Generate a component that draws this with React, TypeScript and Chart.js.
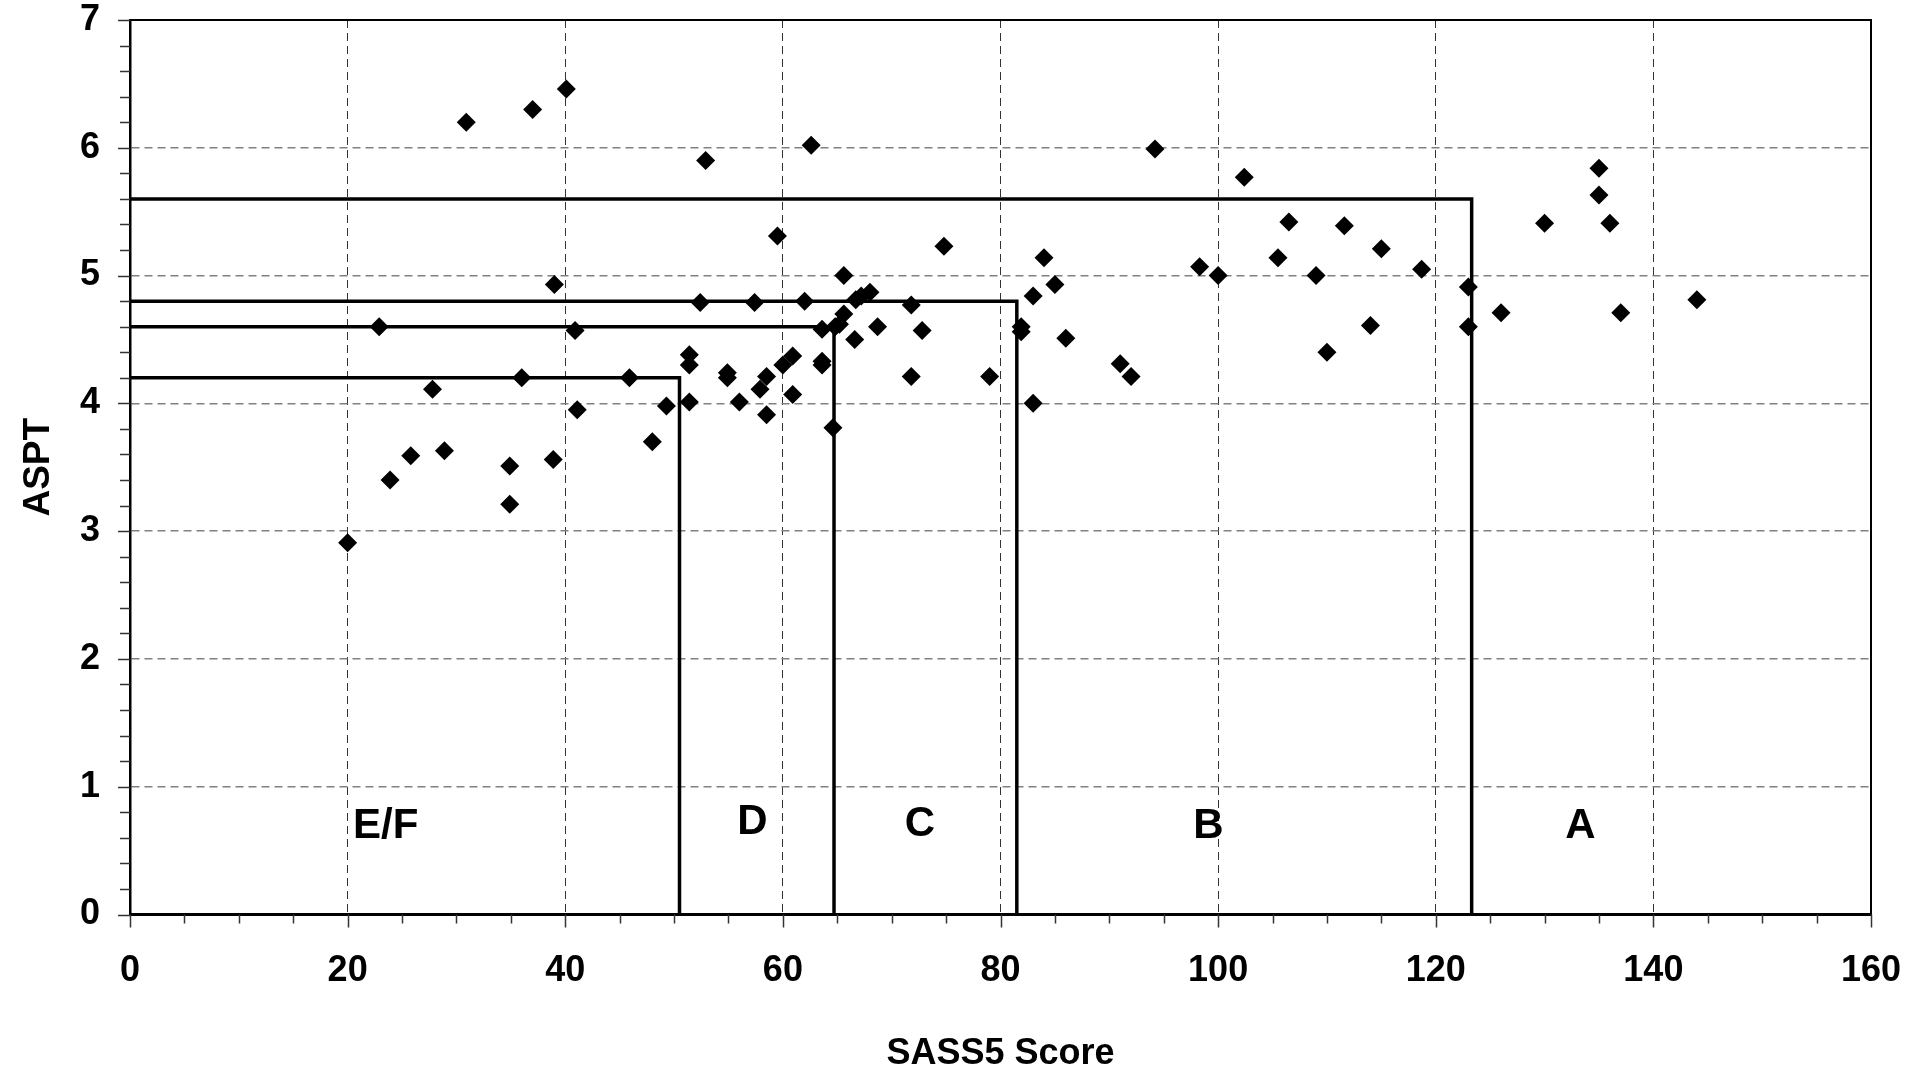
import { useEffect, useRef } from 'react';
import { Chart, registerables } from 'chart.js';

Chart.register(...registerables);

const FONT = "'Liberation Sans', Arial, Helvetica, sans-serif";

// SASS5 score (x) and ASPT (y) of each site
const sassScores = [
  20, 22.9, 23.9, 25.8, 27.8, 28.9, 30.9, 34.9, 34.9, 36.0,
  37.0, 38.9, 39.0, 40.1, 40.9, 41.1, 45.9, 48.0, 49.3, 51.4,
  51.4, 51.4, 52.4, 52.9, 54.9, 54.9, 56.0, 57.4, 57.9, 58.5,
  58.5, 59.5, 60.0, 60.9, 60.9, 62.0, 62.6, 63.6, 63.6, 63.6,
  64.6, 64.8, 65.2, 65.6, 65.6, 66.6, 66.7, 67.2, 68.0, 68.7,
  71.8, 71.8, 72.8, 74.8, 79.0, 81.9, 81.9, 83.0, 83.0, 84.0,
  85.0, 86.0, 91.0, 92.0, 94.2, 98.3, 100.0, 102.4, 105.5, 106.5,
  109.0, 110.0, 111.6, 114.0, 115.0, 118.7, 123.0, 123.0, 126.0, 130.0,
  135.0, 135.0, 136.0, 137.0, 144.0,
];
const asptValues = [
  2.91, 4.60, 3.40, 3.59, 4.11, 3.63, 6.20, 3.51, 3.21, 4.20,
  6.30, 3.56, 4.93, 6.46, 4.57, 3.95, 4.20, 3.70, 3.98, 4.38,
  4.30, 4.01, 4.79, 5.90, 4.24, 4.20, 4.01, 4.79, 4.11, 4.21,
  3.91, 5.31, 4.30, 4.37, 4.07, 4.80, 6.02, 4.58, 4.33, 4.30,
  3.81, 4.60, 4.62, 4.70, 5.00, 4.50, 4.81, 4.84, 4.87, 4.60,
  4.77, 4.21, 4.57, 5.23, 4.21, 4.60, 4.56, 4.84, 4.00, 5.14,
  4.93, 4.51, 4.31, 4.21, 5.99, 5.07, 5.00, 5.77, 5.14, 5.42,
  5.00, 4.40, 5.39, 4.61, 5.21, 5.05, 4.91, 4.60, 4.71, 5.41,
  5.84, 5.63, 5.41, 4.71, 4.81,
];

// band boundaries (SASS5 score limit, ASPT limit) for D, C, B, A
const bandScoreLimits = [50.5, 64.7, 81.5, 123.3];
const bandAsptLimits = [4.2, 4.6, 4.8, 5.6];

// band letters and where they sit (in data units)
const bandLabels = ['E/F', 'D', 'C', 'B', 'A'];
const bandLabelScores = [23.5, 57.2, 72.6, 99.1, 133.3];
const bandLabelAspts = [0.69, 0.72, 0.705, 0.69, 0.69];

const X_MIN = 0, X_MAX = 160, X_MAJOR = 20, X_MINOR = 5;
const Y_MIN = 0, Y_MAX = 7, Y_MAJOR = 1, Y_MINOR = 0.2;

const decorPlugin = {
  id: 'decor',
  afterDraw(chart: any) {
    const { ctx, chartArea: a, scales } = chart;
    const x = scales.x, y = scales.y;
    ctx.save();
    // top and right frame
    ctx.strokeStyle = '#000';
    ctx.lineWidth = 2;
    ctx.beginPath();
    ctx.moveTo(a.left, a.top);
    ctx.lineTo(a.right, a.top);
    ctx.lineTo(a.right, a.bottom);
    ctx.stroke();

    // y tick marks
    ctx.strokeStyle = '#333';
    ctx.lineWidth = 1.5;
    const ny = Math.round((Y_MAX - Y_MIN) / Y_MINOR);
    for (let i = 0; i <= ny; i++) {
      const v = Y_MIN + i * Y_MINOR;
      const py = Math.round(y.getPixelForValue(v)) + 0.5;
      const major = Math.abs(v / Y_MAJOR - Math.round(v / Y_MAJOR)) < 1e-6;
      const len = major ? 12 : 10;
      ctx.beginPath();
      ctx.moveTo(a.left - len, py);
      ctx.lineTo(a.left, py);
      ctx.stroke();
    }
    // x tick marks
    const nx = Math.round((X_MAX - X_MIN) / X_MINOR);
    for (let i = 0; i <= nx; i++) {
      const v = X_MIN + i * X_MINOR;
      const px = Math.round(x.getPixelForValue(v)) + 0.5;
      const major = v % X_MAJOR === 0;
      const len = major ? 13 : 9;
      ctx.beginPath();
      ctx.moveTo(px, a.bottom);
      ctx.lineTo(px, a.bottom + len);
      ctx.stroke();
    }

    // band letters
    ctx.fillStyle = '#000';
    ctx.font = `bold 42px ${FONT}`;
    ctx.textAlign = 'center';
    ctx.textBaseline = 'middle';
    bandLabels.forEach((t, i) => {
      ctx.fillText(t, x.getPixelForValue(bandLabelScores[i]), y.getPixelForValue(bandLabelAspts[i]));
    });
    ctx.restore();
  },
};

export default function App() {
  const ref = useRef<HTMLCanvasElement | null>(null);

  useEffect(() => {
    if (!ref.current) return;
    const points = sassScores.map((s, i) => ({ x: s, y: asptValues[i] }));
    const bandSets = bandScoreLimits.map((lim, i) => ({
      type: 'line' as const,
      label: 'band' + i,
      data: [
        { x: X_MIN, y: bandAsptLimits[i] },
        { x: lim, y: bandAsptLimits[i] },
        { x: lim, y: Y_MIN },
      ],
      showLine: true,
      borderColor: '#000',
      borderWidth: 3.5,
      pointRadius: 0,
      fill: false,
      tension: 0,
    }));

    const chart = new Chart(ref.current, {
      type: 'scatter',
      data: {
        datasets: [
          {
            label: 'sites',
            data: points,
            pointStyle: 'rectRot',
            pointRadius: 9.5,
            pointBackgroundColor: '#000',
            pointBorderColor: '#000',
            pointBorderWidth: 0,
            showLine: false,
          } as any,
          ...bandSets,
        ],
      },
      options: {
        responsive: false,
        animation: false,
        devicePixelRatio: 1,
        layout: { padding: { left: 0, top: 20, right: 59, bottom: 0 } },
        plugins: {
          legend: { display: false },
          tooltip: { enabled: false },
        },
        scales: {
          x: {
            type: 'linear',
            min: X_MIN,
            max: X_MAX,
            ticks: {
              stepSize: X_MAJOR,
              color: '#000',
              padding: 39,
              font: { family: FONT, size: 36, weight: 'bold', lineHeight: 1 },
              maxRotation: 0,
            },
            grid: { color: '#333', lineWidth: 1, drawTicks: false },
            border: { display: true, color: '#000', width: 3, dash: [8, 5] },
            title: {
              display: true,
              text: 'SASS5 Score',
              color: '#000',
              font: { family: FONT, size: 36, weight: 'bold', lineHeight: 1 },
              padding: { top: 0, bottom: 2 },
            },
            afterFit: (s: any) => {
              s.height = 159.5;
              s.paddingLeft = 0;
              s.paddingRight = 0;
            },
          },
          y: {
            type: 'linear',
            min: Y_MIN,
            max: Y_MAX,
            ticks: {
              stepSize: Y_MAJOR,
              color: '#000',
              padding: 30,
              font: { family: FONT, size: 36, weight: 'bold', lineHeight: 1 },
            },
            grid: { color: '#808080', lineWidth: 1.5, drawTicks: false },
            border: { display: true, color: '#000', width: 2.5, dash: [8, 5] },
            title: {
              display: true,
              text: 'ASPT',
              color: '#000',
              font: { family: FONT, size: 37, weight: 'bold', lineHeight: 1.2 },
              padding: { top: 17, bottom: 0 },
            },
            afterFit: (s: any) => {
              s.width = 130;
              s.paddingTop = 0;
              s.paddingBottom = 0;
            },
          },
        },
      } as any,
      plugins: [decorPlugin],
    });
    return () => chart.destroy();
  }, []);

  return (
    <div style={{ position: 'fixed', left: 0, top: 0, width: 1930, height: 1074, background: '#fff' }}>
      <canvas ref={ref} width={1930} height={1074} style={{ display: 'block', width: 1930, height: 1074 }} />
    </div>
  );
}
